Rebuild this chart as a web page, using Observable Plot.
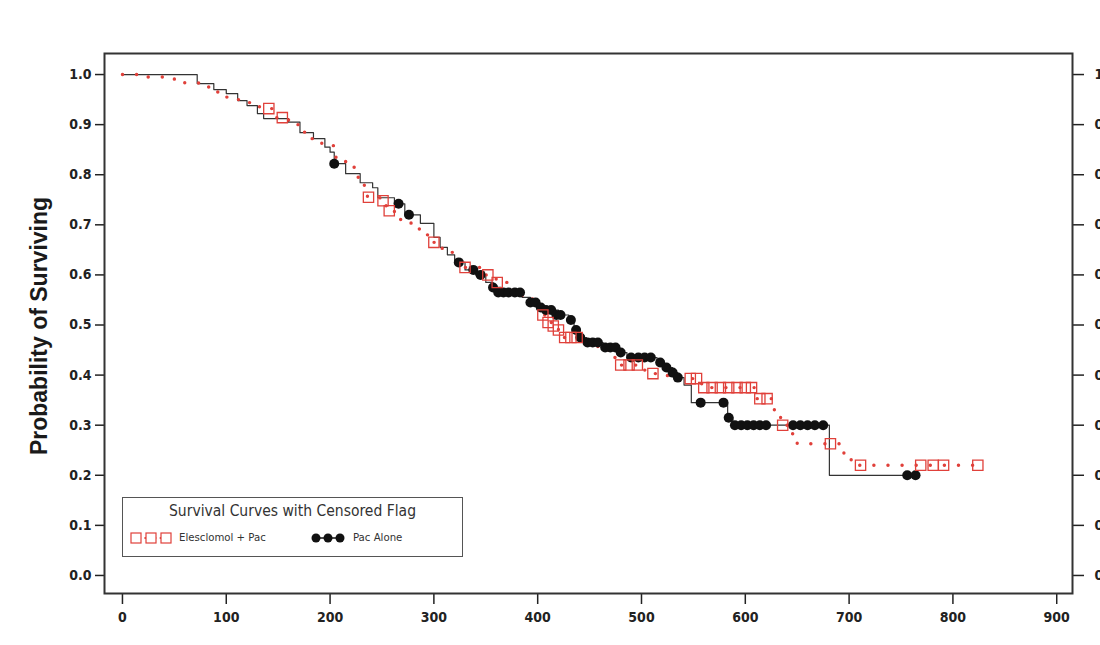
<!DOCTYPE html>
<html><head><meta charset="utf-8">
<script src="https://cdn.jsdelivr.net/npm/d3@7"></script>
<script src="https://cdn.jsdelivr.net/npm/@observablehq/plot@0.6"></script>
<style>
html,body{margin:0;padding:0;background:#fff;overflow:hidden;}
#wrap{position:relative;width:1100px;height:645px;}
#wrap svg{overflow:hidden !important;}
.legend{position:absolute;left:122px;top:497px;width:339px;height:58px;border:1.5px solid #555;background:#fff;
  font-family:"DejaVu Sans Condensed","Liberation Sans",sans-serif;color:#333;}
.legend .title{position:absolute;left:0;right:0;top:4px;text-align:center;font-size:15.5px;}
.legend .row{position:absolute;left:0;top:30px;width:100%;height:20px;}
.legend .lab{position:absolute;top:3px;font-size:11.3px;}
</style></head>
<body><div id="wrap"></div>
<script>
// Pac Alone (Kaplan-Meier steps)
const pacTime = [0,72,88,100,111,120,130,136,160,171,184,195,200,204,215,229,241,246,262,272,287,300,306,313,320,330,340,350,357,365,385,393,400,410,420,430,435,440,447,463,478,486,515,522,530,535,541,548,583,588,681,765];
const pacSurv = [1.0,0.982,0.97,0.962,0.948,0.938,0.922,0.912,0.905,0.884,0.872,0.855,0.845,0.822,0.802,0.784,0.774,0.754,0.742,0.72,0.703,0.675,0.655,0.64,0.625,0.61,0.60,0.585,0.575,0.565,0.555,0.545,0.535,0.53,0.52,0.51,0.49,0.475,0.465,0.455,0.445,0.435,0.425,0.415,0.405,0.395,0.38,0.345,0.315,0.30,0.20,0.20];
// Pac Alone censored
const pacCensTime = [204,266,276,324,338,345,357,362,367,372,378,383,393,398,403,408,413,418,422,432,437,441,448,453,458,465,470,475,480,490,497,503,509,518,524,530,535,557,579,584,590,596,602,608,614,620,646,653,660,667,675,756,764];
const pacCensSurv = [0.822,0.742,0.72,0.625,0.61,0.60,0.575,0.565,0.565,0.565,0.565,0.565,0.545,0.545,0.535,0.53,0.53,0.52,0.52,0.51,0.49,0.475,0.465,0.465,0.465,0.455,0.455,0.455,0.445,0.435,0.435,0.435,0.435,0.425,0.415,0.405,0.395,0.345,0.345,0.315,0.30,0.30,0.30,0.30,0.30,0.30,0.30,0.30,0.30,0.30,0.30,0.20,0.20];
// Elesclomol + Pac (Kaplan-Meier steps)
const eleTime = [0,20,50,60,80,90,100,110,120,132,148,160,170,180,192,205,215,225,233,236,248,254,262,268,278,286,293,298,308,318,328,345,360,372,385,395,402,408,415,420,424,443,458,470,478,500,508,525,545,558,610,628,634,643,650,695,702,830];
const eleSurv = [1.0,0.995,0.99,0.983,0.975,0.965,0.955,0.95,0.944,0.932,0.914,0.9,0.885,0.872,0.858,0.835,0.815,0.795,0.775,0.755,0.748,0.728,0.718,0.708,0.698,0.69,0.68,0.665,0.645,0.63,0.615,0.60,0.585,0.57,0.555,0.54,0.52,0.505,0.498,0.49,0.475,0.465,0.45,0.435,0.42,0.41,0.403,0.395,0.393,0.375,0.353,0.33,0.30,0.283,0.263,0.243,0.22,0.22];
// Elesclomol + Pac censored
const eleCensTime = [141,154,237,251,257,300,330,352,361,405,410,415,420,426,432,438,480,488,496,511,547,553,560,568,576,584,592,600,606,614,621,636,682,711,769,781,791,824];
const eleCensSurv = [0.932,0.914,0.755,0.748,0.728,0.665,0.615,0.60,0.585,0.52,0.505,0.498,0.49,0.475,0.475,0.475,0.42,0.42,0.42,0.403,0.393,0.393,0.375,0.375,0.375,0.375,0.375,0.375,0.375,0.353,0.353,0.30,0.263,0.22,0.22,0.22,0.22,0.22];

const xTicks = [0,100,200,300,400,500,600,700,800,900];
const yTicks = [0,0.1,0.2,0.3,0.4,0.5,0.6,0.7,0.8,0.9,1.0];

const pac = pacTime.map((t,i)=>({t, s: pacSurv[i]}));
const ele = eleTime.map((t,i)=>({t, s: eleSurv[i]}));
const pacC = pacCensTime.map((t,i)=>({t, s: pacCensSurv[i]}));
const eleC = eleCensTime.map((t,i)=>({t, s: eleCensSurv[i]}));

const red = "#e0403a";
const font = '"DejaVu Sans Condensed","Liberation Sans",sans-serif';

const chart = Plot.plot({
  width: 1100, height: 645,
  marginLeft: 104, marginRight: 28, marginTop: 53, marginBottom: 52,
  style: {fontFamily: font, fontSize: "14px", fontWeight: "bold", color: "#222", background: "#fff", overflow: "hidden"},
  x: {domain: [-17.3, 915.2]},
  y: {domain: [-0.036, 1.042]},
  marks: [
    Plot.axisX({ticks: xTicks, tickSize: 11, tickPadding: 8, tickFormat: d3.format("d"), label: null, strokeWidth: 1.5, fontSize: 14}),
    Plot.axisY({anchor: "left", ticks: yTicks, tickSize: 9, tickPadding: 4, tickFormat: d3.format(".1f"), label: null, strokeWidth: 1.5, fontSize: 14}),
    Plot.axisY({anchor: "right", ticks: yTicks, tickSize: 11, tickPadding: 11, tickFormat: d3.format(".1f"), label: null, strokeWidth: 1.5, fontSize: 14}),
    Plot.line(pac, {x: "t", y: "s", curve: "step-after", stroke: "#333", strokeWidth: 1.2}),
    Plot.line(ele, {x: "t", y: "s", curve: "step-after", stroke: red, strokeWidth: 3.4, strokeDasharray: "0.1 14", strokeLinecap: "round"}),
    Plot.dot(pacC, {x: "t", y: "s", r: 5, fill: "#111", stroke: "none"}),
    Plot.dot(eleC, {x: "t", y: "s", symbol: "square", r: 5.8, fill: "none", stroke: red, strokeWidth: 1.3}),
    Plot.frame({stroke: "#333", strokeWidth: 2})
  ]
});
const wrap = document.getElementById("wrap");
wrap.appendChild(chart);

// y axis title
d3.select(chart).append("text")
  .attr("transform", "translate(47,326) rotate(-90)")
  .attr("text-anchor", "middle")
  .attr("font-family", '"Liberation Sans","DejaVu Sans",sans-serif')
  .attr("font-weight", "bold").attr("font-size", 23).attr("fill", "#1a1a1a")
  .text("Probability of Surviving");

// legend
const leg = document.createElement("div");
leg.className = "legend";
leg.innerHTML = `<div class="title">Survival Curves with Censored Flag</div>
<div class="row">
<svg width="340" height="20" style="position:absolute;left:0;top:0;overflow:visible">
 <line x1="12" x2="46" y1="10" y2="10" stroke="${red}" stroke-width="2" stroke-dasharray="0.1 5" stroke-linecap="round"/>
 <rect x="8" y="5" width="10" height="10" fill="#fff" stroke="${red}" stroke-width="1.2"/>
 <rect x="23" y="5" width="10" height="10" fill="#fff" stroke="${red}" stroke-width="1.2"/>
 <rect x="38" y="5" width="10" height="10" fill="#fff" stroke="${red}" stroke-width="1.2"/>
 <line x1="192" x2="216" y1="10" y2="10" stroke="#111" stroke-width="1.5"/>
 <circle cx="193" cy="10" r="4.5" fill="#111"/>
 <circle cx="205" cy="10" r="4.5" fill="#111"/>
 <circle cx="217" cy="10" r="4.5" fill="#111"/>
</svg>
<span class="lab" style="left:56px">Elesclomol + Pac</span>
<span class="lab" style="left:230px">Pac Alone</span>
</div>`;
wrap.appendChild(leg);
</script>
</body></html>
